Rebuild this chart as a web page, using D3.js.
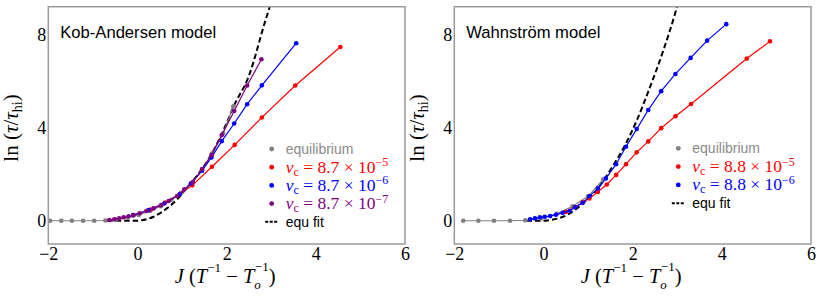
<!DOCTYPE html>
<html><head><meta charset="utf-8">
<script src="https://cdn.jsdelivr.net/npm/d3@7/dist/d3.min.js"></script>
<style>
html,body{margin:0;padding:0;background:#fff;}
svg{display:block;}
</style></head>
<body>
<svg id="chart" width="830" height="297"></svg>
<script>
// ---------- data ----------
const xTicks = [-2, 0, 2, 4, 6];
const yTicks = [0, 4, 8];

// Kob-Andersen panel
const kaEqJ = [-1.96,-1.71,-1.47,-1.22,-0.97,-0.72,-0.47,-0.22,0.03,0.28,0.52,0.76,0.98,1.2,1.44,1.67,1.92,2.15];
const kaEqY = [0,0,0,0,0,0.01,0.05,0.13,0.25,0.42,0.62,0.9,1.2,1.6,2.15,2.89,3.75,4.92];
const kaRedJ = [0.3,0.62,0.95,1.23,1.67,2.18,2.79,3.54,4.55];
const kaRedY = [0.48,0.78,1.15,1.52,2.32,3.26,4.44,5.81,7.47];
const kaBlueJ = [-0.1,0.25,0.6,0.95,1.2,1.45,1.66,1.89,2.17,2.46,2.79,3.56];
const kaBlueY = [0.24,0.46,0.74,1.15,1.6,2.15,2.72,3.42,4.18,5.01,5.82,7.63];
const kaPurpJ = [-0.63,-0.52,-0.41,-0.31,-0.2,-0.09,0.05,0.2,0.36,0.53,0.7,0.89,1.05,1.24,1.45,1.66,1.89,2.17,2.46,2.78];
const kaPurpY = [0.03,0.06,0.1,0.15,0.19,0.24,0.32,0.42,0.53,0.67,0.85,1.06,1.35,1.66,2.22,2.82,3.68,4.72,5.81,6.94];
const kaFitJ = [-0.68,0,0.06,0.36,0.66,0.89,1.11,1.4,1.7,2.0,2.15,2.49,2.87,3.05];
const kaFitY = [0,0,0.01,0.17,0.53,0.92,1.42,2.1,3.0,4.2,4.89,6.18,8.61,9.7];

// Wahnström panel
const waEqJ = [-1.8,-1.46,-1.11,-0.75,-0.41,-0.05,0.3,0.65,1.0,1.34];
const waEqY = [0,0,0,0,0.02,0.1,0.3,0.62,1.05,1.78];
const waRedJ = [0.5,0.7,0.88,1.03,1.22,1.42,1.63,1.85,2.09,2.35,2.64,2.96,3.31,4.56,5.08];
const waRedY = [0.38,0.58,0.79,0.96,1.24,1.56,1.97,2.43,2.94,3.41,3.98,4.49,5.02,6.97,7.71];
const waBlueJ = [-0.3,-0.19,-0.08,0.03,0.15,0.28,0.43,0.59,0.71,0.88,1.03,1.22,1.4,1.63,1.85,2.09,2.35,2.64,2.96,3.3,3.67,4.1];
const waBlueY = [0.06,0.1,0.15,0.17,0.2,0.26,0.34,0.43,0.58,0.77,1.06,1.39,1.82,2.43,3.18,3.94,4.76,5.57,6.31,7.0,7.74,8.45];
const waFitJ = [-0.38,0,0.15,0.52,0.89,1.19,1.57,1.83,2.09,2.39,2.69,2.95,3.05];
const waFitY = [0,0,0.03,0.24,0.75,1.32,2.4,3.25,4.3,5.75,7.33,8.9,9.6];

const kaLegend = [
  {kind:"dot", color:"#808080", text:"equilibrium"},
  {kind:"dot", color:"#ff0000", mant:"8.7", exp:"−5"},
  {kind:"dot", color:"#0000ff", mant:"8.7", exp:"−6"},
  {kind:"dot", color:"#800080", mant:"8.7", exp:"−7"},
  {kind:"dash", color:"#000", text:"equ fit"}
];
const waLegend = [
  {kind:"dot", color:"#808080", text:"equilibrium"},
  {kind:"dot", color:"#ff0000", mant:"8.8", exp:"−5"},
  {kind:"dot", color:"#0000ff", mant:"8.8", exp:"−6"},
  {kind:"dash", color:"#000", text:"equ fit"}
];

const zip = (a, b) => a.map((v, i) => [v, b[i]]);

const panels = [
  {id:"ka", left:48.3, right:405, title:"Kob-Andersen model",
   series:[
     {pts:zip(kaEqJ,kaEqY), color:"#808080"},
     {pts:zip(kaRedJ,kaRedY), color:"#ff0000"},
     {pts:zip(kaBlueJ,kaBlueY), color:"#0000ff"},
     {pts:zip(kaPurpJ,kaPurpY), color:"#800080"}
   ],
   fit:zip(kaFitJ,kaFitY), legend:kaLegend, legX:271.7, legY:149, legStep:18.2},
  {id:"wa", left:454.3, right:811, title:"Wahnström model",
   series:[
     {pts:zip(waEqJ,waEqY), color:"#808080"},
     {pts:zip(waRedJ,waRedY), color:"#ff0000"},
     {pts:zip(waBlueJ,waBlueY), color:"#0000ff"}
   ],
   fit:zip(waFitJ,waFitY), legend:waLegend, legX:678.3, legY:148.3, legStep:18.3}
];

const svg = d3.select("#chart");
const plotTop = 6.7, plotBottom = 244;
const serif = "'Liberation Serif','DejaVu Serif',serif";
const sans = "'Liberation Sans',Arial,sans-serif";

panels.forEach(p => {
  const x = d3.scaleLinear().domain([-2, 6]).range([p.left, p.right]);
  const y = d3.scaleLinear().domain([-1, 9.2]).range([plotBottom, plotTop]);
  const g = svg.append("g");

  svg.append("clipPath").attr("id", "clip-" + p.id)
    .append("rect").attr("x", p.left).attr("y", plotTop)
    .attr("width", p.right - p.left).attr("height", plotBottom - plotTop);

  const plot = g.append("g").attr("clip-path", `url(#clip-${p.id})`);
  const line = d3.line().x(d => x(d[0])).y(d => y(d[1]));

  // fit curve
  plot.append("path").datum(p.fit)
    .attr("d", d3.line().x(d => x(d[0])).y(d => y(d[1])).curve(d3.curveMonotoneX))
    .attr("fill", "none").attr("stroke", "#000")
    .attr("stroke-width", 2).attr("stroke-dasharray", "5.5,3");

  p.series.forEach(s => {
    plot.append("path").datum(s.pts).attr("d", line)
      .attr("fill", "none").attr("stroke", s.color).attr("stroke-width", 1.2);
    plot.selectAll(null).data(s.pts).enter().append("circle")
      .attr("cx", d => x(d[0])).attr("cy", d => y(d[1]))
      .attr("r", 2.3).attr("fill", s.color);
  });

  // frame
  g.append("rect").attr("x", p.left).attr("y", plotTop)
    .attr("width", p.right - p.left).attr("height", plotBottom - plotTop)
    .attr("fill", "none").attr("stroke", "#9a9a9a").attr("stroke-width", 1.5);

  // axes (labels only, no tick marks)
  const xAxis = d3.axisBottom(x).tickValues(xTicks).tickSize(0).tickPadding(3)
    .tickFormat(d => d < 0 ? "−" + Math.abs(d) : String(d));
  const xa = g.append("g").attr("transform", `translate(0,${plotBottom})`).call(xAxis);
  xa.select(".domain").remove();
  xa.selectAll("text").attr("font-family", serif).attr("font-size", 18).attr("fill", "#000");

  const yAxis = d3.axisLeft(y).tickValues(yTicks).tickSize(0).tickPadding(2)
    .tickFormat(d => String(d));
  const ya = g.append("g").attr("transform", `translate(${p.left},0)`).call(yAxis);
  ya.select(".domain").remove();
  ya.selectAll("text").attr("font-family", serif).attr("font-size", 18).attr("fill", "#000");

  // title
  g.append("text").attr("x", p.left + 12).attr("y", 37.5)
    .attr("font-family", sans).attr("font-size", 16.6).attr("fill", "#000")
    .text(p.title);

  // x label
  const cx = (p.left + p.right) / 2 - 1.5;
  const xl = g.append("text").attr("x", cx).attr("y", 283)
    .attr("text-anchor", "middle").attr("font-family", serif).attr("font-size", 20.5);
  xl.append("tspan").attr("font-style", "italic").text("J");
  xl.append("tspan").text(" (");
  xl.append("tspan").attr("font-style", "italic").text("T");
  xl.append("tspan").attr("font-size", 13).attr("dy", -11).text("−1");
  xl.append("tspan").attr("dy", 11).text(" − ");
  xl.append("tspan").attr("font-style", "italic").text("T");
  xl.append("tspan").attr("font-style", "italic").attr("font-size", 13).attr("dy", 5.5).text("o");
  xl.append("tspan").attr("font-size", 13).attr("dx", -6).attr("dy", -17.5).text("−1");
  xl.append("tspan").attr("dy", 12).text(")");

  // y label
  const yl = g.append("text")
    .attr("transform", `translate(${p.left - 30},128) rotate(-90)`)
    .attr("text-anchor", "middle").attr("font-family", serif).attr("font-size", 21);
  yl.append("tspan").text("ln (");
  yl.append("tspan").attr("font-style", "italic").text("τ");
  yl.append("tspan").text("/");
  yl.append("tspan").attr("font-style", "italic").text("τ");
  yl.append("tspan").attr("font-size", 14).attr("dy", 4).text("hi");
  yl.append("tspan").attr("dy", -4).text(")");

  // legend
  p.legend.forEach((e, i) => {
    const ly = p.legY + i * p.legStep;
    if (e.kind === "dot") {
      g.append("circle").attr("cx", p.legX).attr("cy", ly).attr("r", 2.4).attr("fill", e.color);
    } else {
      g.append("line").attr("x1", p.legX - 6.5).attr("x2", p.legX + 5.5)
        .attr("y1", ly).attr("y2", ly).attr("stroke", e.color)
        .attr("stroke-width", 2).attr("stroke-dasharray", "3,1.5");
    }
    const tx = p.legX + 14;
    if (e.text) {
      g.append("text").attr("x", tx).attr("y", ly + 5)
        .attr("font-family", sans).attr("font-size", 14)
        .attr("fill", e.text === "equilibrium" ? "#8a8a8a" : "#000").text(e.text);
    } else {
      const t = g.append("text").attr("x", tx).attr("y", ly + 5.5)
        .attr("font-family", serif).attr("font-size", 17.5).attr("fill", e.color);
      t.append("tspan").attr("font-style", "italic").text("ν");
      t.append("tspan").attr("font-size", 12).attr("dy", 3).text("c");
      t.append("tspan").attr("dy", -3).text(" = " + e.mant + " × 10");
      t.append("tspan").attr("font-size", 12).attr("dy", -6.5).text(e.exp);
    }
  });
});
</script>
</body></html>
